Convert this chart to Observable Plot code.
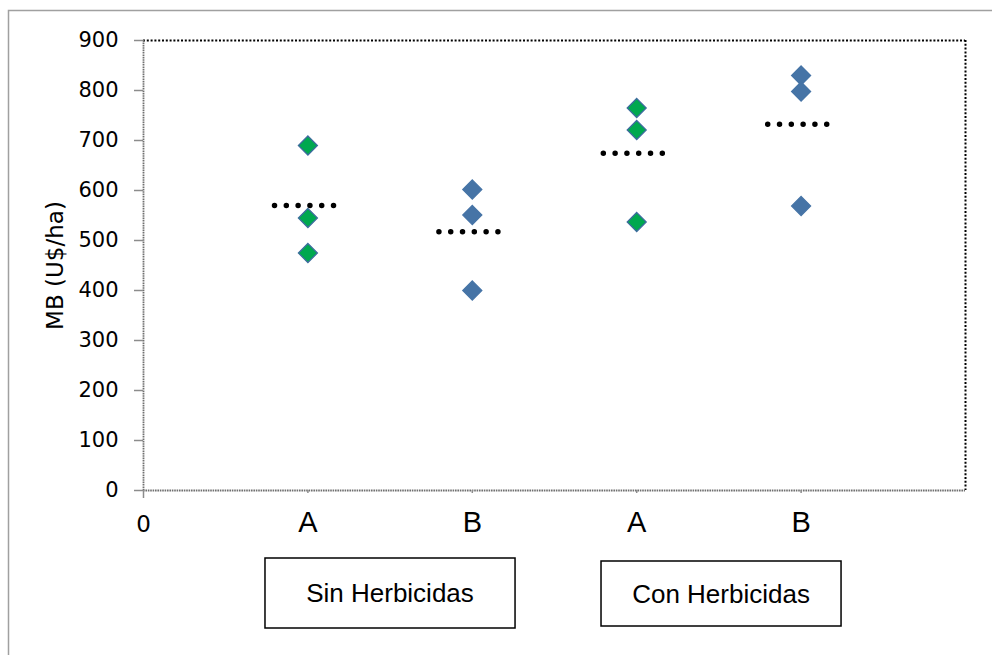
<!DOCTYPE html>
<html>
<head>
<meta charset="utf-8">
<script src="https://cdn.jsdelivr.net/npm/d3@7"></script>
<script src="https://cdn.jsdelivr.net/npm/@observablehq/plot@0.6"></script>
<style>
  html, body { margin: 0; padding: 0; background: #fff; }
  #chart { position: relative; width: 992px; height: 655px; overflow: hidden; }
</style>
</head>
<body>
<div id="chart"></div>
<script>
// ---- Data ----
const groupX = [1, 2, 3, 4];
const groupLabels = ["A", "B", "A", "B"];
const groupValues = [
  [690, 545, 475],
  [602, 551, 400],
  [765, 721, 537],
  [830, 798, 569]
];
const groupSeries = ["green", "blue", "green", "blue"];
const panelNames = ["Sin Herbicidas", "Con Herbicidas"];
const yTicks = [0, 100, 200, 300, 400, 500, 600, 700, 800, 900];
const yLabel = "MB (U$/ha)";

// ---- Build tables ----
const points = [];
groupX.forEach((x, i) => groupValues[i].forEach(v => points.push({x, v, s: groupSeries[i]})));
const means = groupX.map((x, i) => ({x, m: d3.mean(groupValues[i])}));

const fillColor = {green: "#00a84f", blue: "#4674a6"};
const strokeColor = {green: "#3d6b9e", blue: "#4674a6"};

const tickFont = "DejaVu Sans";

const plot = Plot.plot({
  width: 992,
  height: 655,
  marginLeft: 143,
  marginRight: 27,
  marginTop: 40,
  marginBottom: 165,
  style: {background: "#fff", color: "#000", fontFamily: tickFont},
  x: {domain: [0, 5], axis: null},
  y: {domain: [0, 900], axis: null},
  marks: [
    // plot-area border: top & right black dotted
    Plot.ruleY([900], {stroke: "#000", strokeWidth: 2, strokeDasharray: "2,1.8"}),
    Plot.ruleX([5], {stroke: "#000", strokeWidth: 2, strokeDasharray: "2,1.8"}),
    // axes lines: gray dotted
    Plot.ruleX([0], {stroke: "#707070", strokeWidth: 1.8, strokeDasharray: "1.6,0.8"}),
    Plot.ruleY([0], {stroke: "#707070", strokeWidth: 1.8, strokeDasharray: "1.6,0.8"}),
    // y ticks and labels
    Plot.axisY({ticks: yTicks, tickSize: 9, stroke: "#8c8c8c", fill: "none", strokeWidth: 1.5, label: null}),
    Plot.axisY({ticks: yTicks, tickSize: 0, tickPadding: 25, fill: "#000", stroke: "none",
      fontSize: 21, fontFamily: tickFont, label: null, tickFormat: d => String(d)}),
    // x ticks
    Plot.axisX({ticks: [0], tickSize: 8, stroke: "#8c8c8c", fill: "none", strokeWidth: 1.5, label: null}),
    Plot.axisX({ticks: groupX, tickSize: 3, stroke: "#8c8c8c", fill: "none", strokeWidth: 1.5, label: null}),
    // x labels
    Plot.text([0], {x: d => d, text: d => String(d), frameAnchor: "bottom", dy: 34,
      lineAnchor: "middle", fontSize: 23, fontFamily: tickFont, fill: "#000"}),
    Plot.text(groupX, {x: d => d, text: (d, i) => groupLabels[i], frameAnchor: "bottom", dy: 32,
      lineAnchor: "middle", fontSize: 29, fontFamily: "Liberation Sans", fill: "#000"}),
    // y label
    Plot.text([yLabel], {frameAnchor: "left", dx: -88, rotate: -90, textAnchor: "middle",
      lineAnchor: "middle", fontSize: 23, fontFamily: tickFont, fill: "#000"}),
    // mean lines (dotted)
    Plot.ruleY(means, {x1: d => d.x - 0.2, x2: d => d.x + 0.2, y: "m", stroke: "#000",
      strokeWidth: 5.5, strokeDasharray: "0,11.8", strokeLinecap: "round"}),
    // points
    Plot.dot(points, {x: "x", y: "v", symbol: "diamond2", r: 8.6,
      fill: d => fillColor[d.s], stroke: d => strokeColor[d.s], strokeWidth: 1.2})
  ]
});

const root = document.getElementById("chart");
root.appendChild(plot);

// ---- Annotations: outer chart border and group boxes ----
const svg = d3.select(plot);
const xs = plot.scale("x");
svg.append("path")
  .attr("d", "M8.5,660 V10.5 H1000")
  .attr("fill", "none")
  .attr("stroke", "#a0a0a0")
  .attr("stroke-width", 1.5);

const panelSpan = [[0.742, 2.263], [2.786, 4.246]];
const panelY = [[558, 628], [561, 626]];
panelNames.forEach((name, i) => {
  const x1 = xs.apply(panelSpan[i][0]);
  const x2 = xs.apply(panelSpan[i][1]);
  const [y1, y2] = panelY[i];
  svg.append("rect")
    .attr("x", x1).attr("y", y1)
    .attr("width", x2 - x1).attr("height", y2 - y1)
    .attr("fill", "#fff").attr("stroke", "#000").attr("stroke-width", 1.5);
  svg.append("text")
    .attr("x", (x1 + x2) / 2).attr("y", (y1 + y2) / 2)
    .attr("text-anchor", "middle").attr("dominant-baseline", "central")
    .attr("font-family", "Liberation Sans, Arial, sans-serif")
    .attr("font-size", 26)
    .attr("fill", "#000")
    .text(name);
});
</script>
</body>
</html>
